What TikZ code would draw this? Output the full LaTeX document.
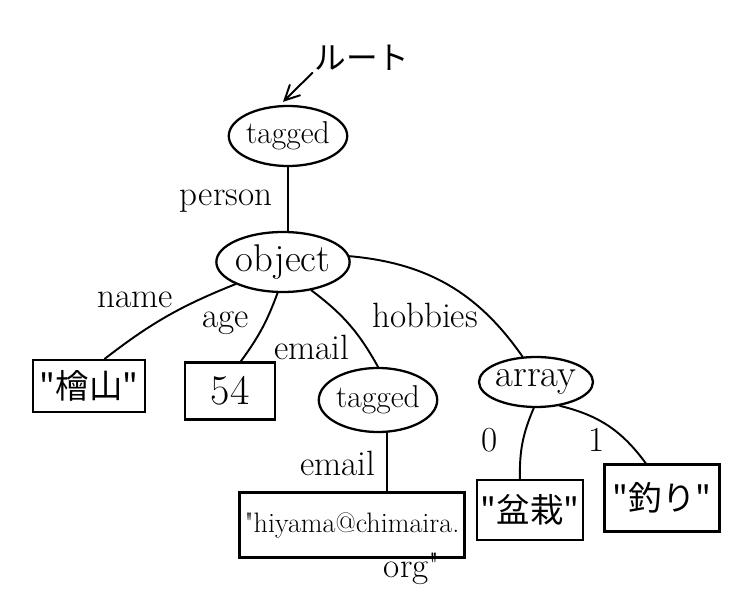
\documentclass[tikz,border=0pt]{standalone}
\usepackage{fontspec}
\newfontfamily\jpfont{Noto Sans CJK JP}
\usetikzlibrary{shapes.geometric,arrows.meta,calc}
\tikzset{
  edge/.style={draw, line width=1.1pt, line cap=round},
  tagnode/.style={ellipse, draw, line width=1.3pt, inner sep=0pt, font=\fontsize{18}{20}\selectfont},
  valbox/.style={rectangle, draw, line width=1.3pt, inner sep=2pt, font=\fontsize{24}{26}\selectfont},
  jpval/.style={valbox, font=\jpfont\fontsize{19}{22}\selectfont},
  lab/.style={font=\fontsize{20}{22}\selectfont, inner sep=1pt},
}

\begin{document}
\begin{tikzpicture}[x=0.02cm, y=-0.02cm]
  \useasboundingbox (0,0) rectangle (741,604);
  % nodes
  \node[lab, font=\jpfont\fontsize{18}{20}\selectfont] (rootlbl) at (362,58) {ルート};
  \node[tagnode, minimum width=2.16cm, minimum height=1.2cm] (tag1) at (288,136) {tagged};
  \node[tagnode, minimum width=2.46cm, minimum height=1.2cm, font=\fontsize{22}{24}\selectfont] (obj) at (283,262) {object};
  \node[tagnode, minimum width=2cm, minimum height=1.28cm] (tag2) at (378,400) {tagged};
  \node[tagnode, minimum width=2.14cm, minimum height=1cm, font=\fontsize{22}{24}\selectfont] (arr) at (536,382) {array};
  % values
  \node[jpval, minimum width=2.24cm, minimum height=1.04cm] (namebox) at (89,386) {"檜山"};
  \node[valbox, minimum width=1.8cm, minimum height=1.14cm] (agebox) at (230,391) {54};
  \node[valbox, minimum width=4.5cm, minimum height=1.3cm, font=\fontsize{16}{20}\selectfont] (mailbox) at (352,525) {\textquotedbl hiyama@chimaira.};
  \node[lab] (orgtxt) at (412,569) {org\textquotedbl};
  \node[jpval, minimum width=2.08cm, minimum height=1.2cm] (bonsai) at (530,510) {"盆栽"};
  \node[jpval, minimum width=2.3cm, minimum height=1.34cm] (fish) at (662,498) {"釣り"};
  % edges
  \draw[edge, -{Straight Barb[length=3mm, width=3mm]}] (rootlbl.south west) -- ($(tag1.north)+(-5,-3)$);
  \draw[edge] (tag1.south) -- (tag1.south |- obj.north);
  \draw[edge] (obj.205) to[bend right=8] (namebox.60);
  \draw[edge] (obj.-100) to[bend left=8] (agebox.70);
  \draw[edge] (obj.-45) to[bend left=12] (tag2.north);
  \draw[edge] (obj.5) to[bend left=25] (arr.118);
  \draw[edge] (tag2.-75) -- (tag2.-75 |- mailbox.north);
  \draw[edge] (arr.-95) to[bend right=12] (bonsai.108);
  \draw[edge] (arr.-45) to[bend left=20] (fish.115);
  % labels
  \node[lab] (lperson) at (226,201) {person};
  \node[lab] (lname) at (135,300) {name};
  \node[lab] (lage) at (226,323) {age};
  \node[lab] (lmail) at (312,347) {email};
  \node[lab] (lhobby) at (425,315) {hobbies};
  \node[lab] (lzero) at (490,440) {0};
  \node[lab] (lone) at (597,440) {1};
  \node[lab] (lmail2) at (338,463) {email};
\end{tikzpicture}
\end{document}
